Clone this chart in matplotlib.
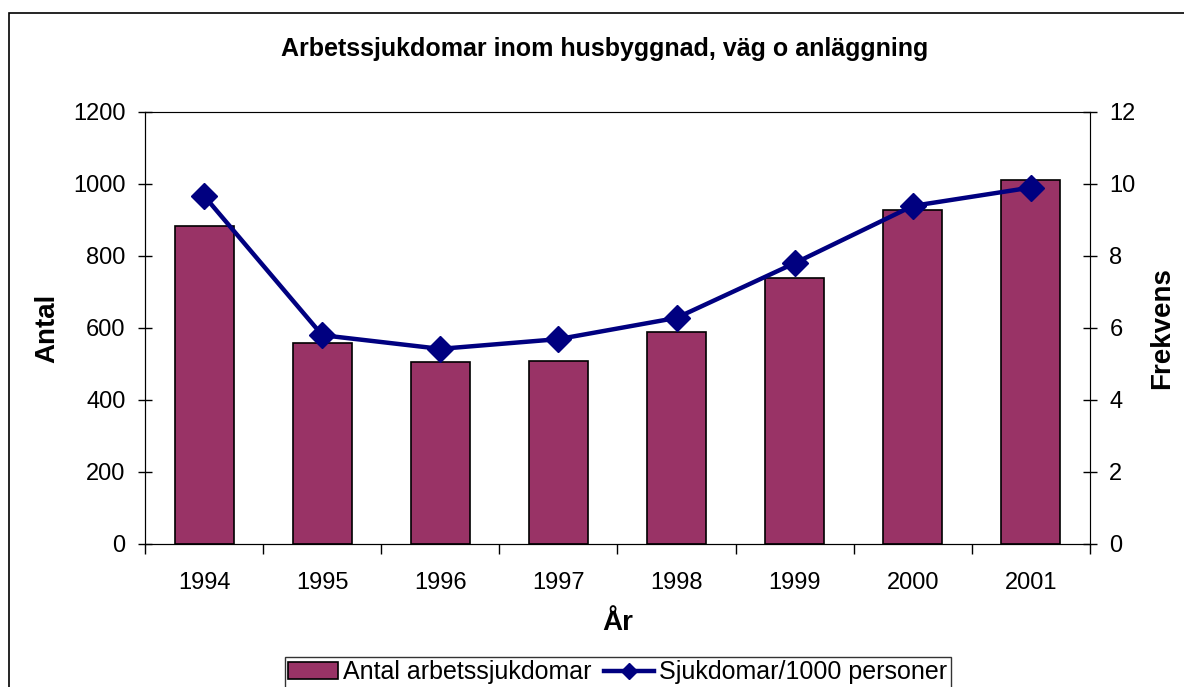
import matplotlib.pyplot as plt
import matplotlib.patches as mpatches
import numpy as np

# Data
years = ['1994', '1995', '1996', '1997', '1998', '1999', '2000', '2001']
antal = [883, 557, 506, 507, 589, 740, 929, 1012]
frekvens = [9.67, 5.8, 5.42, 5.69, 6.28, 7.8, 9.39, 9.9]

plt.rcParams['font.family'] = ['Liberation Sans', 'DejaVu Sans']

fig = plt.figure(figsize=(11.84, 6.87), dpi=100)
ax = fig.add_axes([0.1225, 0.2082, 0.798, 0.6288])

# outer chart frame (cut off at the right and bottom like the reference)
fig.patches.append(mpatches.Rectangle((9 / 1184, -0.05), 1.1, 1 - 13 / 687 + 0.05,
                                      transform=fig.transFigure, fill=False,
                                      edgecolor='black', linewidth=1.2))

x = np.arange(len(years))
ax.bar(x, antal, width=0.5, color='#993366', edgecolor='black', linewidth=1.2,
       label='Antal arbetssjukdomar', zorder=2)
ax.set_xlim(-0.5, len(years) - 0.5)
ax.set_ylim(0, 1200)
ax.set_yticks(np.arange(0, 1201, 200))
ax.set_xticks(x)
ax.set_xticklabels(years, fontsize=17)
ax.set_xticks(np.arange(-0.5, len(years)), minor=True)
ax.tick_params(axis='x', which='major', length=0, pad=20)
ax.tick_params(axis='x', which='minor', length=7, width=1, direction='out')
ax.tick_params(axis='y', labelsize=17, length=10, width=1, direction='inout', pad=9)
for sp in ax.spines.values():
    sp.set_color('#808080')
ax.spines['left'].set_color('black')
ax.spines['bottom'].set_color('black')
ax.set_ylabel('Antal', fontsize=20, fontweight='bold', labelpad=9)
ax.set_xlabel('År', fontsize=20, fontweight='bold', labelpad=12)
ax.set_title('Arbetssjukdomar inom husbyggnad, väg o anläggning',
             fontsize=18, fontweight='bold', pad=40, x=0.486)

ax2 = ax.twinx()
ax2.plot(x, frekvens, color='#000080', linewidth=3.2, marker='D', markersize=13,
         label='Sjukdomar/1000 personer', zorder=3)
ax2.set_ylim(0, 12)
ax2.set_yticks(np.arange(0, 13, 2))
ax2.tick_params(axis='y', labelsize=17, length=10, width=1, direction='inout', pad=9)
ax2.spines['right'].set_color('black')
ax2.set_ylabel('Frekvens', fontsize=20, fontweight='bold', labelpad=10)

h1, l1 = ax.get_legend_handles_labels()
h2, l2 = ax2.get_legend_handles_labels()
leg = fig.legend(h1 + h2, l1 + l2, loc='lower center', bbox_to_anchor=(0.522, -0.02),
                 ncol=2, fontsize=18, frameon=True, fancybox=False, edgecolor='black',
                 handlelength=2.0, handletextpad=0.2, columnspacing=0.5,
                 borderpad=0.15, markerscale=0.6)
leg.get_frame().set_linewidth(1)

fig.savefig('out.png', dpi=100)
